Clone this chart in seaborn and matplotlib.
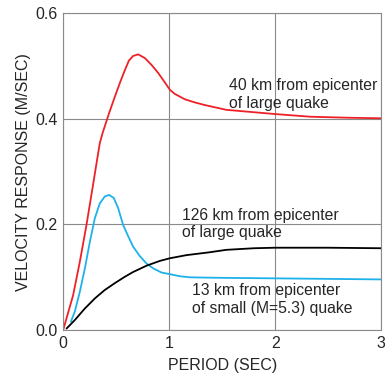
import pandas as pd
import seaborn as sns
import matplotlib.pyplot as plt

# readings (period in sec, velocity response in m/sec)
red_x = [0.0, 0.094, 0.158, 0.22, 0.274, 0.315, 0.346, 0.372, 0.403, 0.434, 0.488,
         0.541, 0.582, 0.62, 0.66, 0.708, 0.771, 0.834, 0.896, 0.959, 1.007, 1.054,
         1.148, 1.243, 1.337, 1.54, 2.0, 2.33, 2.7, 3.0]
red_y = [0.0, 0.066, 0.13, 0.199, 0.265, 0.316, 0.354, 0.373, 0.392, 0.411, 0.442,
         0.471, 0.492, 0.510, 0.519, 0.522, 0.515, 0.502, 0.487, 0.469, 0.455, 0.447,
         0.437, 0.431, 0.426, 0.417, 0.409, 0.404, 0.402, 0.401]

blue_x = [0.073, 0.11, 0.158, 0.205, 0.252, 0.299, 0.346, 0.393, 0.434, 0.478, 0.519,
          0.566, 0.613, 0.66, 0.724, 0.787, 0.849, 0.928, 1.006, 1.1, 1.195, 1.32,
          1.5, 2.0, 2.5, 3.0]
blue_y = [0.016, 0.035, 0.073, 0.117, 0.167, 0.212, 0.240, 0.253, 0.256, 0.250, 0.231,
          0.199, 0.178, 0.158, 0.140, 0.126, 0.117, 0.109, 0.106, 0.102, 0.100, 0.0995,
          0.099, 0.098, 0.097, 0.096]

black_x = [0.032, 0.11, 0.205, 0.299, 0.393, 0.488, 0.582, 0.66, 0.787, 0.912, 1.006,
           1.164, 1.368, 1.54, 1.8, 2.0, 2.5, 3.0]
black_y = [0.003, 0.019, 0.041, 0.060, 0.076, 0.089, 0.101, 0.110, 0.122, 0.131, 0.136,
           0.142, 0.147, 0.152, 0.155, 0.156, 0.156, 0.155]

sns.set_style("white")
plt.rcParams['font.family'] = ['Liberation Sans', 'DejaVu Sans']

fig = plt.figure(figsize=(3.85, 3.76), dpi=100)
ax = fig.add_axes([0.164, 0.122, 0.826, 0.843])

sns.lineplot(x=red_x, y=red_y, color='#ee2128', lw=1.3, ax=ax)
sns.lineplot(x=blue_x, y=blue_y, color='#1eb2ea', lw=1.3, ax=ax)
sns.lineplot(x=black_x, y=black_y, color='black', lw=1.3, ax=ax)

ax.set_xlim(0, 3)
ax.set_ylim(0, 0.6)
ax.set_xticks([0, 1, 2, 3])
ax.set_yticks([0.0, 0.2, 0.4, 0.6])
ax.set_yticklabels(['0.0', '0.2', '0.4', '0.6'])
ax.tick_params(length=0, labelsize=11.5, pad=4)
ax.grid(True, color='#8a8a8a', lw=0.8)
for s in ax.spines.values():
    s.set_color('#8a8a8a')
    s.set_linewidth(0.8)

ax.set_xlabel('PERIOD (SEC)', fontsize=11.5, labelpad=5)
ax.set_ylabel('VELOCITY RESPONSE (M/SEC)', fontsize=11.5, labelpad=3)

ax.text(1.56, 0.477, '40 km from epicenter\nof large quake', fontsize=11.3,
        va='top', linespacing=1.2)
ax.text(1.12, 0.232, '126 km from epicenter\nof large quake', fontsize=11.3,
        va='top', linespacing=1.2)
ax.text(1.22, 0.089, '13 km from epicenter\nof small (M=5.3) quake', fontsize=11.3,
        va='top', linespacing=1.2)

plt.savefig('out.png', dpi=100)
